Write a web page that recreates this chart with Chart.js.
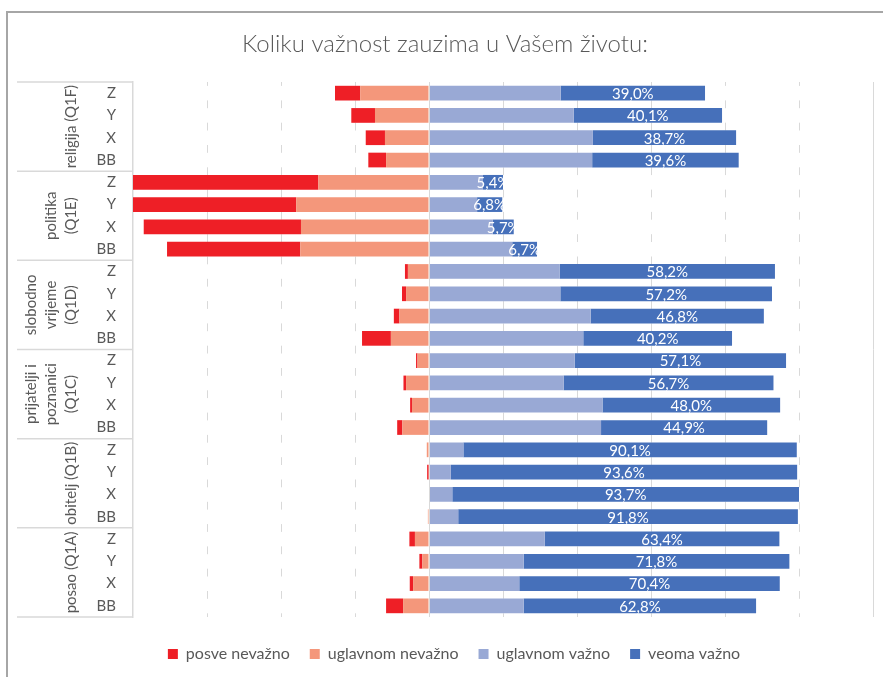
<!DOCTYPE html>
<html>
<head>
<meta charset="utf-8">
<script src="https://cdn.jsdelivr.net/npm/chart.js@4.4.1/dist/chart.umd.min.js"></script>
<style>
  html, body { margin: 0; padding: 0; background: #fff; }
  #wrap { width: 883px; height: 677px; position: relative; }
</style>
</head>
<body>
<div id="wrap"><canvas id="likertChart"></canvas></div>
<script>
// group labels (split into lines the way they wrap in the category box)
const groupLines = [
  ['religija (Q1F)'],
  ['politika', '(Q1E)'],
  ['slobodno', 'vrijeme', '(Q1D)'],
  ['prijatelji i', 'poznanici', '(Q1C)'],
  ['obitelj (Q1B)'],
  ['posao (Q1A)']
];
const generations = ['Z', 'Y', 'X', 'BB'];

// percentages, rows top to bottom (group by group, Z / Y / X / BB)
const posveNevazno    = [6.8, 6.4, 5.2, 4.8,  50.1, 44.3, 42.5, 36.0,  0.8, 1.1, 1.5, 7.8,  0.4, 0.7, 0.5, 1.4,  0.0, 0.4, 0.0, 0.0,  1.5, 0.8, 0.9, 4.6];
const uglavnomNevazno = [18.6, 14.6, 11.9, 11.6,  29.9, 35.9, 34.6, 34.8,  5.7, 6.2, 8.0, 10.3,  3.1, 6.2, 4.6, 7.2,  0.6, 0.1, 0.0, 0.3,  3.8, 1.8, 4.3, 7.0];
const uglavnomVazno   = [35.6, 39.1, 44.3, 44.1,  14.6, 13.0, 17.2, 22.5,  35.3, 35.5, 43.7, 41.7,  39.4, 36.4, 46.9, 46.5,  9.3, 5.9, 6.3, 7.9,  31.3, 25.6, 24.4, 25.6];
const veomaVazno      = [39.0, 40.1, 38.7, 39.6,  5.4, 6.8, 5.7, 6.7,  58.2, 57.2, 46.8, 40.2,  57.1, 56.7, 48.0, 44.9,  90.1, 93.6, 93.7, 91.8,  63.4, 71.8, 70.4, 62.8];

const xMin = -80, xMax = 120, xStep = 20;

const rowLabels = [];
groupLines.forEach(() => generations.forEach(g => rowLabels.push(g)));

const textGrey = '#595959';
const gridGrey = '#d9d9d9';
const fontFamily = 'Lato, "Open Sans", sans-serif';
const legendOrder = [1, 0, 2, 3];

const negate = arr => arr.map(v => -v);
const fmtPct = v => v.toFixed(1).replace('.', ',') + '%';

const barOpts = { barPercentage: 0.66, categoryPercentage: 1, borderWidth: 0 };

const data = {
  labels: rowLabels,
  datasets: [
    { label: 'uglavnom nevažno', data: negate(uglavnomNevazno), backgroundColor: '#F4977B', ...barOpts },
    { label: 'posve nevažno', data: negate(posveNevazno), backgroundColor: '#EE1F26', ...barOpts },
    { label: 'uglavnom važno', data: uglavnomVazno, backgroundColor: '#99A9D5', ...barOpts },
    { label: 'veoma važno', data: veomaVazno, backgroundColor: '#4670BA', ...barOpts }
  ]
};

const decorations = {
  id: 'decorations',
  afterLayout(chart) {
    // excel centres the legend under the plot, nudge it a bit right
    chart.legend.left += 9;
    chart.legend.right += 9;
  },
  beforeDraw(chart) {
    const ctx = chart.ctx;
    ctx.save();
    ctx.fillStyle = '#fff';
    ctx.fillRect(0, 0, chart.width, chart.height);
    ctx.strokeStyle = '#a6a6a6';
    ctx.lineWidth = 2;
    ctx.beginPath();
    ctx.moveTo(7, chart.height);
    ctx.lineTo(7, 12);
    ctx.lineTo(chart.width, 12);
    ctx.stroke();
    ctx.restore();
  },
  afterDatasetsDraw(chart) {
    const ctx = chart.ctx;
    const area = chart.chartArea;
    const xs = chart.scales.x;
    ctx.save();
    ctx.strokeStyle = gridGrey;
    ctx.lineWidth = 1;
    [0, xMax].forEach(v => {
      const px = Math.round(xs.getPixelForValue(v)) + 0.5;
      ctx.beginPath();
      ctx.moveTo(px, area.top);
      ctx.lineTo(px, area.bottom);
      ctx.stroke();
    });

    // value labels on "veoma važno"
    const meta = chart.getDatasetMeta(3);
    ctx.fillStyle = '#fff';
    ctx.font = '15px ' + fontFamily;
    ctx.textAlign = 'center';
    ctx.textBaseline = 'middle';
    meta.data.forEach((bar, i) => {
      ctx.fillText(fmtPct(veomaVazno[i]), (bar.x + bar.base) / 2, bar.y + 1);
    });
    ctx.restore();
  },
  afterDraw(chart) {
    const ctx = chart.ctx;
    const area = chart.chartArea;
    const ys = chart.scales.y;
    const n = rowLabels.length;
    const per = generations.length;
    ctx.save();
    ctx.strokeStyle = gridGrey;
    ctx.lineWidth = 1.5;
    for (let g = 0; g <= groupLines.length; g++) {
      const i = g * per;
      const y = i === 0 ? area.top : i === n ? area.bottom
        : (ys.getPixelForValue(i - 1) + ys.getPixelForValue(i)) / 2;
      ctx.beginPath();
      ctx.moveTo(ys.left, y);
      ctx.lineTo(ys.right, y);
      ctx.stroke();
    }
    ctx.fillStyle = textGrey;
    ctx.font = '15px ' + fontFamily;
    ctx.textAlign = 'center';
    ctx.textBaseline = 'middle';
    groupLines.forEach((lines, g) => {
      const yc = (ys.getPixelForValue(g * per) + ys.getPixelForValue(g * per + per - 1)) / 2;
      lines.forEach((txt, k) => {
        const x = ys.left + 54 - (lines.length - 1 - k) * 20;
        ctx.save();
        ctx.translate(x, yc);
        ctx.rotate(-Math.PI / 2);
        ctx.fillText(txt, 0, 0);
        ctx.restore();
      });
    });
    ctx.restore();
  }
};

const config = {
  type: 'bar',
  data: data,
  options: {
    indexAxis: 'y',
    responsive: true,
    maintainAspectRatio: false,
    animation: false,
    layout: { padding: { left: 17, right: 10, top: 0, bottom: 5 } },
    plugins: {
      title: {
        display: true,
        text: 'Koliku važnost zauzima u Vašem životu:',
        color: textGrey,
        font: { family: fontFamily, size: 24, weight: 300, lineHeight: 1.2 },
        padding: { top: 29.6, bottom: 23.6 }
      },
      legend: {
        position: 'bottom',
        labels: {
          color: textGrey,
          font: { family: fontFamily, size: 16 },
          boxWidth: 10,
          boxHeight: 10,
          padding: 20,
          sort: (a, b) => legendOrder.indexOf(a.datasetIndex) - legendOrder.indexOf(b.datasetIndex)
        }
      },
      tooltip: { enabled: false }
    },
    scales: {
      x: {
        stacked: true,
        min: xMin,
        max: xMax,
        afterFit: s => { s.height = 9; },
        ticks: { display: false, stepSize: xStep },
        grid: {
          color: c => (c.tick && [xMin, 0, xMax].includes(c.tick.value)) ? 'rgba(0,0,0,0)' : gridGrey,
          lineWidth: 1,
          drawTicks: false
        },
        border: { display: false, dash: [7.8, 14.5], dashOffset: 3.9 }
      },
      y: {
        stacked: true,
        afterFit: s => { s.width = 116; },
        grid: { display: false, drawTicks: false },
        border: { display: true, color: gridGrey, width: 1.5 },
        ticks: { color: textGrey, font: { family: fontFamily, size: 15 }, padding: 17, autoSkip: false }
      }
    }
  },
  plugins: [decorations]
};

const ctx = document.getElementById('likertChart').getContext('2d');
new Chart(ctx, config);
</script>
</body>
</html>
